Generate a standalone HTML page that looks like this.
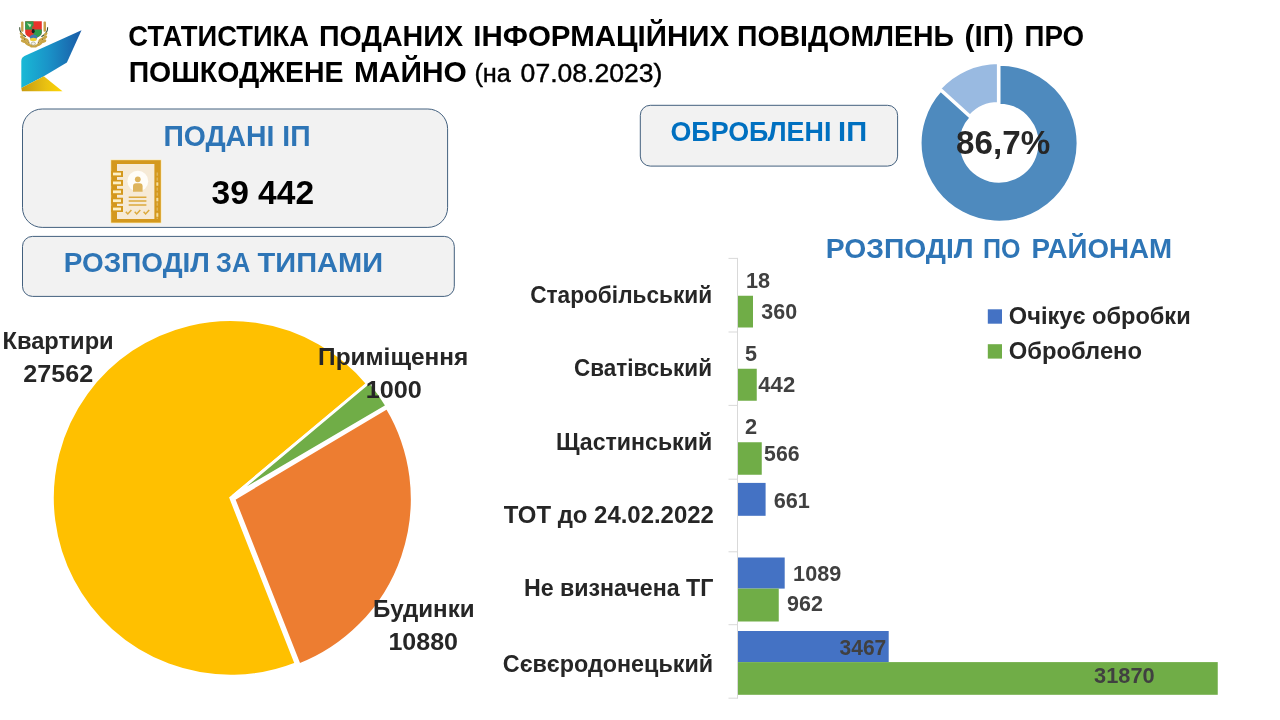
<!DOCTYPE html>
<html lang="uk"><head><meta charset="utf-8"><title>Статистика поданих інформаційних повідомлень</title>
<style>
html,body{margin:0;padding:0;background:#fff;}
body{width:1280px;height:720px;overflow:hidden;}
svg{display:block;}
text{font-family:"Liberation Sans",sans-serif;white-space:pre;}
</style></head><body>
<svg width="1280" height="720" viewBox="0 0 1280 720">
<defs>
<linearGradient id="gb" x1="0" y1="0" x2="1" y2="0"><stop offset="0" stop-color="#19b9d6"/><stop offset="0.45" stop-color="#1a93c8"/><stop offset="1" stop-color="#1a5aa6"/></linearGradient>
<linearGradient id="gy" x1="0" y1="0" x2="1" y2="0"><stop offset="0" stop-color="#c79a10"/><stop offset="0.6" stop-color="#e9c112"/><stop offset="1" stop-color="#ffd500"/></linearGradient>
</defs>
<rect width="1280" height="720" fill="#fff"/>

<g id="logo">
<path d="M81.5,30.2 L24.5,56 Q21.3,57.6 21.3,61 L21.3,88 L43.8,76.3 L66.9,62.5 Z" fill="url(#gb)"/>
<path d="M21.3,88 L43.8,76.3 L62.5,91.3 L21.9,91.3 Z" fill="url(#gy)"/>
<g id="arms">
<rect x="21.1" y="21.6" width="2.4" height="10.2" rx="0.8" fill="#c8a04a"/>
<rect x="43.5" y="21.6" width="2.5" height="10.2" rx="0.8" fill="#c8a04a"/>
<path d="M19.7,27.2 Q19.2,33.2 25.8,36.8" stroke="#3a5236" stroke-width="1.1" fill="none"/>
<path d="M47.6,27.2 Q48.1,33.2 41.4,36.8" stroke="#3a5236" stroke-width="1.1" fill="none"/>
<g fill="#c9a545"><ellipse cx="22.6" cy="37.6" rx="2.9" ry="1.5" transform="rotate(28 22.6 37.6)"/><ellipse cx="23.8" cy="41.2" rx="3.1" ry="1.6" transform="rotate(20 23.8 41.2)"/><ellipse cx="27.6" cy="43.8" rx="3" ry="1.5" transform="rotate(25 27.6 43.8)"/>
<ellipse cx="44.6" cy="37.6" rx="2.9" ry="1.5" transform="rotate(-28 44.6 37.6)"/><ellipse cx="43.4" cy="41.2" rx="3.1" ry="1.6" transform="rotate(-20 43.4 41.2)"/><ellipse cx="39.6" cy="43.8" rx="3" ry="1.5" transform="rotate(-25 39.6 43.8)"/>
<ellipse cx="33.5" cy="46.4" rx="3.4" ry="1.2"/><ellipse cx="21.6" cy="34.2" rx="2.2" ry="1.3" transform="rotate(40 21.6 34.2)"/><ellipse cx="45.6" cy="34.2" rx="2.2" ry="1.3" transform="rotate(-40 45.6 34.2)"/><ellipse cx="26.6" cy="40" rx="2.6" ry="1.4" transform="rotate(35 26.6 40)"/><ellipse cx="40.6" cy="40" rx="2.6" ry="1.4" transform="rotate(-35 40.6 40)"/><ellipse cx="30" cy="45.4" rx="2.4" ry="1.2" transform="rotate(15 30 45.4)"/><ellipse cx="37.2" cy="45.4" rx="2.4" ry="1.2" transform="rotate(-15 37.2 45.4)"/></g>
<g fill="#8a6d2a"><circle cx="24.6" cy="39.3" r="0.7"/><circle cx="42.6" cy="39.3" r="0.7"/><circle cx="28.8" cy="42.2" r="0.7"/><circle cx="38.4" cy="42.2" r="0.7"/></g>
<path d="M25.2,21.3 H41.8 V32.5 Q41.8,36.6 33.5,38.6 Q25.2,36.6 25.2,32.5 Z" fill="#e8332b"/>
<path d="M25.2,21.3 H33.5 V29.6 H25.2Z" fill="#2f9c4e"/>
<path d="M33.5,29.6 H41.8 V32.5 Q41.8,36.6 33.5,38.6 Z" fill="#2f9c4e"/>
<path d="M27,23.2 L31.5,24.6 L30,27.4 Z" fill="#cfe3b0"/>
<circle cx="33.3" cy="27.6" r="1.5" fill="#c8452e"/>
<ellipse cx="33.2" cy="31.2" rx="1.5" ry="2.1" fill="#1d1d1d"/>
<path d="M29.6,36.6 Q33.5,32.6 37.4,36.6 L36.4,39.4 H30.6Z" fill="#3f79b0"/>
<ellipse cx="33.4" cy="39.4" rx="3.4" ry="1.6" fill="#f0d23c"/>
<ellipse cx="33.3" cy="43.6" rx="2.1" ry="1.7" fill="#f4f1e6" stroke="#7d7a4a" stroke-width="0.5"/>
</g>
</g>
<rect x="22.5" y="109" width="425.1" height="118.4" rx="19.7" fill="#f2f2f2" stroke="#43607e" stroke-width="1"/>
<rect x="22.5" y="236.4" width="431.8" height="60" rx="10" fill="#f2f2f2" stroke="#43607e" stroke-width="1"/>
<rect x="640.3" y="105.3" width="257.3" height="60.8" rx="10" fill="#f2f2f2" stroke="#43607e" stroke-width="1"/>
<g id="icon">
<rect x="110.6" y="159.6" width="50.8" height="63.6" fill="#ffe9a6"/>
<rect x="111.2" y="160.2" width="49.6" height="62.4" fill="#d4981d"/>
<rect x="117" y="164" width="37.4" height="55" fill="#f6ead6"/>
<g fill="#d4981d"><rect x="111.2" y="171" width="11.8" height="6"/><rect x="111.2" y="179.9" width="11.8" height="6"/><rect x="111.2" y="188.8" width="11.8" height="6"/><rect x="111.2" y="197.7" width="11.8" height="6"/><rect x="111.2" y="206" width="11.8" height="6"/></g>
<g fill="#fdf0c4"><rect x="113" y="172.6" width="8" height="2.8"/><rect x="113" y="181.5" width="8" height="2.8"/><rect x="113" y="190.4" width="8" height="2.8"/><rect x="113" y="199.3" width="8" height="2.8"/><rect x="113" y="207.6" width="8" height="2.8"/></g>
<path d="M157.3,172.5 V219" stroke="#deb458" stroke-width="1.5" stroke-dasharray="3.2 1.8" fill="none"/><g fill="#f6dfa0"><rect x="156.4" y="182.4" width="1.9" height="3.3"/><rect x="156.4" y="198" width="1.9" height="3.3"/><rect x="156.4" y="213.2" width="1.9" height="3.6"/></g>
<circle cx="137.8" cy="181.2" r="10.4" fill="#fffdf8"/>
<circle cx="137.8" cy="179.3" r="2.9" fill="#deb45c"/>
<path d="M133,191.7 V186.3 Q133,183.3 136,183.3 H139.6 Q142.6,183.3 142.6,186.3 V191.7 Z" fill="#deb45c"/>
<g stroke="#dca93c" stroke-width="1.5" fill="none"><path d="M128.7,197.2 H146.4 M128.7,201.1 H146.4 M128.7,205 H146.4"/>
<path d="M125.8,211.8 l2,2.2 l3.6,-4 M134.7,211.8 l2,2.2 l3.6,-4 M143.6,211.8 l2,2.2 l3.6,-4"/></g>
</g>
<g id="pie" stroke="#fff" stroke-width="2.7" stroke-linejoin="miter">
<path d="M230.65,497.85 L295.96,663.65 A178.2,178.2 0 1 1 367.36,383.54 Z" fill="#ffc000"/>
<path d="M233.10,496.11 L369.81,381.80 A178.2,178.2 0 0 1 386.80,405.93 Z" fill="#70ad47"/>
<path d="M233.95,499.00 L387.02,407.75 A178.2,178.2 0 0 1 299.26,664.80 Z" fill="#ed7d31"/>
</g>
<g id="donut" stroke="#fff" stroke-width="2.8" stroke-linejoin="miter">
<path d="M999.10,64.30 A78.9,78.9 0 1 1 940.56,90.30 L970.90,117.72 A38.0,38.0 0 1 0 999.10,105.20 Z" fill="#4e8abe"/>
<path transform="translate(-0.8,-1.7)" d="M940.56,90.30 A78.9,78.9 0 0 1 999.10,64.30 L999.10,105.20 A38.0,38.0 0 0 0 970.90,117.72 Z" fill="#99bae1"/>
</g>
<g id="bars">
<path d="M737.5,257.9 V698.7" stroke="#d9d9d9" stroke-width="1" fill="none"/>
<path d="M728.5,258.4 H737.5" stroke="#d9d9d9" stroke-width="1" fill="none"/>
<path d="M728.5,332 H737.5" stroke="#d9d9d9" stroke-width="1" fill="none"/>
<path d="M728.5,405.4 H737.5" stroke="#d9d9d9" stroke-width="1" fill="none"/>
<path d="M728.5,479.2 H737.5" stroke="#d9d9d9" stroke-width="1" fill="none"/>
<path d="M728.5,551.8 H737.5" stroke="#d9d9d9" stroke-width="1" fill="none"/>
<path d="M728.5,624.7 H737.5" stroke="#d9d9d9" stroke-width="1" fill="none"/>
<path d="M728.5,698.2 H737.5" stroke="#d9d9d9" stroke-width="1" fill="none"/>
<rect x="738" y="295.75" width="15.00" height="31.75" fill="#70ad47"/>
<rect x="738" y="368.75" width="18.75" height="32.00" fill="#70ad47"/>
<rect x="738" y="442.25" width="23.75" height="32.50" fill="#70ad47"/>
<rect x="738" y="482.9" width="27.60" height="32.90" fill="#4472c4"/>
<rect x="738" y="557.5" width="46.70" height="31.10" fill="#4472c4"/>
<rect x="738" y="588.6" width="40.75" height="32.90" fill="#70ad47"/>
<rect x="738" y="631" width="150.70" height="31.10" fill="#4472c4"/>
<rect x="738" y="662.1" width="479.75" height="32.70" fill="#70ad47"/>
<rect x="987.8" y="309.3" width="14.2" height="14.4" fill="#4472c4"/><rect x="987.8" y="344.2" width="14.2" height="14.4" fill="#70ad47"/>
</g>
<g id="texts">
<text id="t1a" x="128.36" y="46" font-size="29.07" font-weight="bold" fill="#000" textLength="180.71" lengthAdjust="spacingAndGlyphs">СТАТИСТИКА</text>
<text id="t1b" x="318.95" y="46" font-size="29.07" font-weight="bold" fill="#000" textLength="144.11" lengthAdjust="spacingAndGlyphs">ПОДАНИХ</text>
<text id="t1c" x="473.29" y="46" font-size="29.07" font-weight="bold" fill="#000" textLength="255.80" lengthAdjust="spacingAndGlyphs">ІНФОРМАЦІЙНИХ</text>
<text id="t1d" x="736.97" y="46" font-size="29.07" font-weight="bold" fill="#000" textLength="217.08" lengthAdjust="spacingAndGlyphs">ПОВІДОМЛЕНЬ</text>
<text id="t1e" x="964.50" y="46" font-size="29.07" font-weight="bold" fill="#000" textLength="49.44" lengthAdjust="spacingAndGlyphs">(ІП)</text>
<text id="t1f" x="1024.61" y="46" font-size="29.07" font-weight="bold" fill="#000" textLength="59.55" lengthAdjust="spacingAndGlyphs">ПРО</text>
<text id="t2a" x="128.66" y="82" font-size="29.07" font-weight="bold" fill="#000" textLength="214.85" lengthAdjust="spacingAndGlyphs">ПОШКОДЖЕНЕ</text>
<text id="t2b" x="353.94" y="82" font-size="29.07" font-weight="bold" fill="#000" textLength="112.86" lengthAdjust="spacingAndGlyphs">МАЙНО</text>
<text id="t2c" stroke="#000" stroke-width="0.40" x="474.45" y="82" font-size="24.85" font-weight="normal" fill="#000" textLength="36.50" lengthAdjust="spacingAndGlyphs">(на</text>
<text id="t2d" stroke="#000" stroke-width="0.40" x="520.63" y="82" font-size="24.85" font-weight="normal" fill="#000" textLength="141.76" lengthAdjust="spacingAndGlyphs">07.08.2023)</text>
<text id="b1" x="163.40" y="146" font-size="28.63" font-weight="bold" fill="#2e75b6" textLength="147.16" lengthAdjust="spacingAndGlyphs">ПОДАНІ ІП</text>
<text id="n1" x="211.53" y="204" font-size="32.99" font-weight="bold" fill="#000" textLength="102.53" lengthAdjust="spacingAndGlyphs">39 442</text>
<text id="b2a" x="63.87" y="272" font-size="28.49" font-weight="bold" fill="#2e75b6" textLength="146.07" lengthAdjust="spacingAndGlyphs">РОЗПОДІЛ</text>
<text id="b2b" x="216.08" y="272" font-size="28.49" font-weight="bold" fill="#2e75b6" textLength="34.17" lengthAdjust="spacingAndGlyphs">ЗА</text>
<text id="b2c" x="257.54" y="272" font-size="28.49" font-weight="bold" fill="#2e75b6" textLength="125.55" lengthAdjust="spacingAndGlyphs">ТИПАМИ</text>
<text id="b3a" x="670.49" y="141" font-size="28.34" font-weight="bold" fill="#0070c0" textLength="160.87" lengthAdjust="spacingAndGlyphs">ОБРОБЛЕНІ</text>
<text id="b3b" x="838.10" y="141" font-size="28.34" font-weight="bold" fill="#0070c0" textLength="28.98" lengthAdjust="spacingAndGlyphs">ІП</text>
<text id="pc" x="956.14" y="154" font-size="32.85" font-weight="bold" fill="#262626" textLength="94.04" lengthAdjust="spacingAndGlyphs">86,7%</text>
<text id="r1" x="825.74" y="258" font-size="28.49" font-weight="bold" fill="#2e75b6" textLength="147.94" lengthAdjust="spacingAndGlyphs">РОЗПОДІЛ</text>
<text id="r2" x="982.99" y="258" font-size="28.49" font-weight="bold" fill="#2e75b6" textLength="37.50" lengthAdjust="spacingAndGlyphs">ПО</text>
<text id="r3" x="1031.48" y="258" font-size="28.49" font-weight="bold" fill="#2e75b6" textLength="140.57" lengthAdjust="spacingAndGlyphs">РАЙОНАМ</text>
<text id="p1" x="2.47" y="349" font-size="23.69" font-weight="bold" fill="#262626" textLength="111.21" lengthAdjust="spacingAndGlyphs">Квартири</text>
<text id="p1n" x="23.24" y="382" font-size="23.69" font-weight="bold" fill="#262626" textLength="69.93" lengthAdjust="spacingAndGlyphs">27562</text>
<text id="p2" x="318.14" y="365" font-size="23.69" font-weight="bold" fill="#262626" textLength="150.12" lengthAdjust="spacingAndGlyphs">Приміщення</text>
<text id="p2n" x="365.68" y="398" font-size="23.69" font-weight="bold" fill="#262626" textLength="56.08" lengthAdjust="spacingAndGlyphs">1000</text>
<text id="p3" x="373.13" y="617" font-size="23.69" font-weight="bold" fill="#262626" textLength="101.43" lengthAdjust="spacingAndGlyphs">Будинки</text>
<text id="p3n" x="388.47" y="650" font-size="23.69" font-weight="bold" fill="#262626" textLength="69.53" lengthAdjust="spacingAndGlyphs">10880</text>
<text id="c1" x="530.16" y="303" font-size="23.84" font-weight="bold" fill="#262626" textLength="182.02" lengthAdjust="spacingAndGlyphs">Старобільський</text>
<text id="c2" x="573.98" y="376" font-size="23.84" font-weight="bold" fill="#262626" textLength="138.05" lengthAdjust="spacingAndGlyphs">Сватівський</text>
<text id="c3" x="555.94" y="450" font-size="23.84" font-weight="bold" fill="#262626" textLength="156.21" lengthAdjust="spacingAndGlyphs">Щастинський</text>
<text id="c4" x="503.80" y="523" font-size="23.84" font-weight="bold" fill="#262626" textLength="210.02" lengthAdjust="spacingAndGlyphs">ТОТ до 24.02.2022</text>
<text id="c5" x="523.94" y="596" font-size="23.84" font-weight="bold" fill="#262626" textLength="189.49" lengthAdjust="spacingAndGlyphs">Не визначена ТГ</text>
<text id="c6" x="502.80" y="672" font-size="23.84" font-weight="bold" fill="#262626" textLength="210.35" lengthAdjust="spacingAndGlyphs">Сєвєродонецький</text>
<text id="d1a" x="746.04" y="288" font-size="21.22" font-weight="bold" fill="#404040" textLength="24.11" lengthAdjust="spacingAndGlyphs">18</text>
<text id="d1b" x="761.32" y="319" font-size="21.22" font-weight="bold" fill="#404040" textLength="35.76" lengthAdjust="spacingAndGlyphs">360</text>
<text id="d2a" x="744.92" y="361" font-size="21.22" font-weight="bold" fill="#404040" textLength="12.01" lengthAdjust="spacingAndGlyphs">5</text>
<text id="d2b" x="758.36" y="392" font-size="21.22" font-weight="bold" fill="#404040" textLength="36.78" lengthAdjust="spacingAndGlyphs">442</text>
<text id="d3a" x="744.95" y="434" font-size="21.22" font-weight="bold" fill="#404040" textLength="12.14" lengthAdjust="spacingAndGlyphs">2</text>
<text id="d3b" x="764.12" y="461" font-size="21.22" font-weight="bold" fill="#404040" textLength="35.45" lengthAdjust="spacingAndGlyphs">566</text>
<text id="d4a" x="773.69" y="508" font-size="21.22" font-weight="bold" fill="#404040" textLength="36.16" lengthAdjust="spacingAndGlyphs">661</text>
<text id="d5a" x="793.14" y="581" font-size="21.22" font-weight="bold" fill="#404040" textLength="48.09" lengthAdjust="spacingAndGlyphs">1089</text>
<text id="d5b" x="787.13" y="611" font-size="21.22" font-weight="bold" fill="#404040" textLength="35.77" lengthAdjust="spacingAndGlyphs">962</text>
<text id="d6a" x="839.58" y="655" font-size="21.22" font-weight="bold" fill="#404040" textLength="46.66" lengthAdjust="spacingAndGlyphs">3467</text>
<text id="d6b" x="1094.09" y="683" font-size="21.22" font-weight="bold" fill="#404040" textLength="60.60" lengthAdjust="spacingAndGlyphs">31870</text>
<text id="l1" x="1008.86" y="324" font-size="23.11" font-weight="bold" fill="#262626" textLength="181.83" lengthAdjust="spacingAndGlyphs">Очікує обробки</text>
<text id="l2" x="1008.87" y="359" font-size="23.11" font-weight="bold" fill="#262626" textLength="133.09" lengthAdjust="spacingAndGlyphs">Оброблено</text>
</g>
</svg></body></html>
